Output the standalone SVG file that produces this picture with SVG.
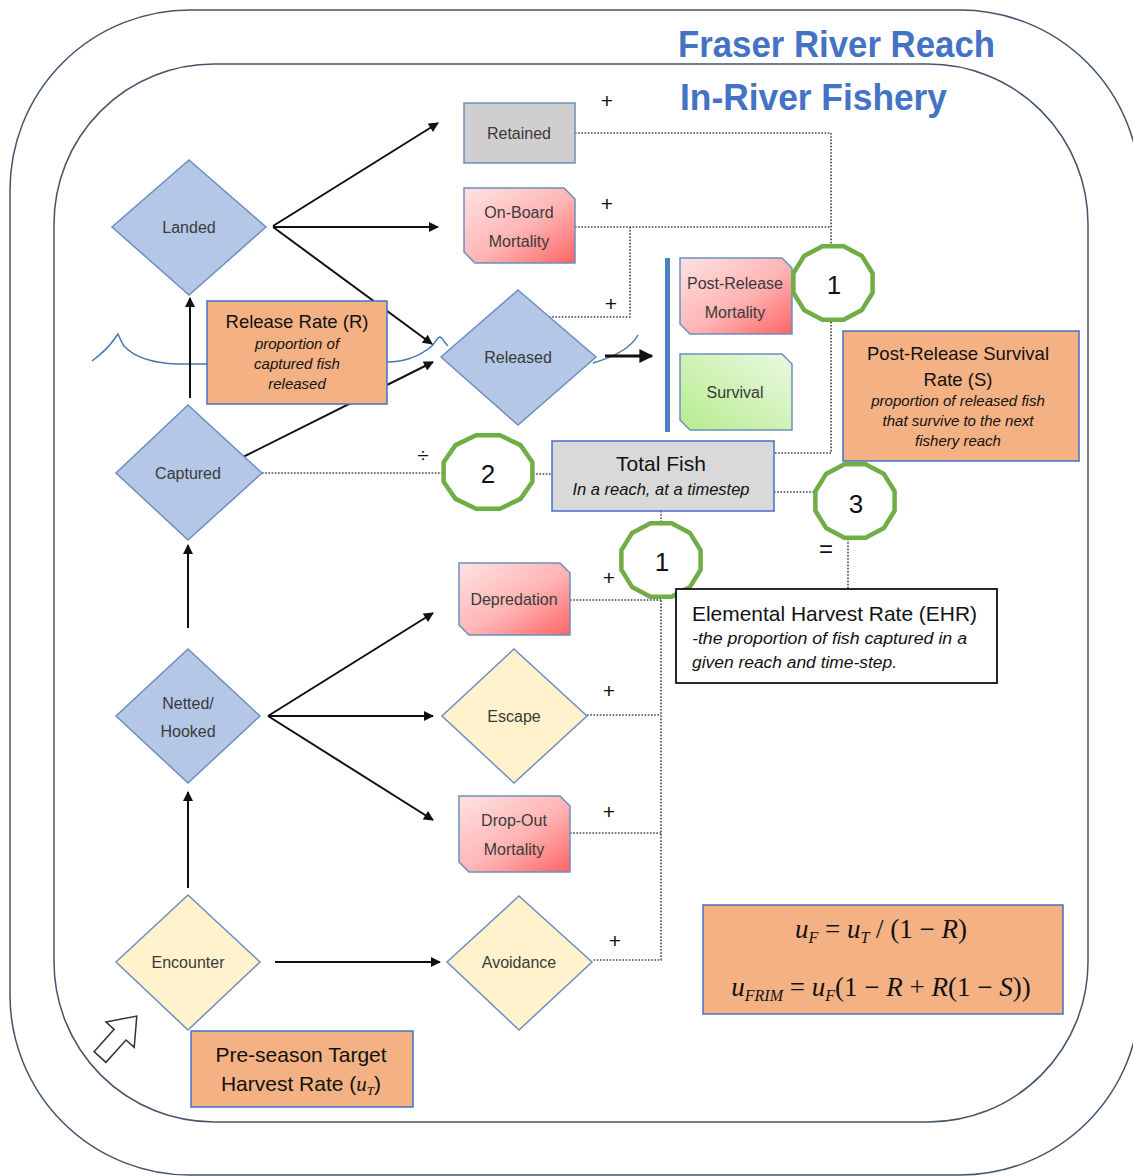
<svg xmlns="http://www.w3.org/2000/svg" width="1133" height="1176" viewBox="0 0 1133 1176">
<style>
.frame{fill:none;stroke:#44546a;stroke-width:1.5}
.title{font-family:"Liberation Sans",Arial,sans-serif;font-size:37px;font-weight:bold;fill:#4472c4}
.lbl{font-family:"Liberation Sans",Arial,sans-serif;font-size:16px;fill:#3a3a3a;text-anchor:middle}
.dia-blue{fill:#b4c7e7;stroke:#6c8ebf;stroke-width:1.5}
.dia-yel{fill:#fff2cc;stroke:#6c8ebf;stroke-width:1.5}
.red{fill:url(#redg);stroke:#6c8ebf;stroke-width:1.5}
.grn{fill:url(#grng);stroke:#6c8ebf;stroke-width:1.5}
.gray{fill:#d0cece;stroke:#6c8ebf;stroke-width:1.5}
.orange{fill:#f4b183;stroke:#4472c4;stroke-width:1.5}
.box-t{font-family:"Liberation Sans",Arial,sans-serif;font-size:18.5px;fill:#111;text-anchor:middle}
.box-i{font-family:"Liberation Sans",Arial,sans-serif;font-size:15px;font-style:italic;fill:#111;text-anchor:middle}
.arrow{stroke:#111;stroke-width:2;fill:none;marker-end:url(#ah)}
.dot{stroke:#444;stroke-width:1.6;stroke-dasharray:1.6 1.6;fill:none}
.sym{font-family:"Liberation Sans",Arial,sans-serif;font-size:21px;fill:#111;text-anchor:middle}
.ring{fill:#fff;stroke:#70ad47;stroke-width:4.5;stroke-linejoin:round}
.num{font-family:"Liberation Sans",Arial,sans-serif;font-size:26px;fill:#111;text-anchor:middle}
.river{fill:none;stroke:#4a78b0;stroke-width:1.5}
.math{font-family:"Liberation Serif","Times New Roman",serif;font-size:27px;fill:#111;text-anchor:middle}
.ehr{font-family:"Liberation Sans",Arial,sans-serif;fill:#111}
</style>
<defs>
<linearGradient id="redg" x1="0" y1="0" x2="1" y2="1">
<stop offset="0" stop-color="#ffe3e3"/>
<stop offset="0.55" stop-color="#ffb3b3"/>
<stop offset="1" stop-color="#ff6464"/>
</linearGradient>
<linearGradient id="grng" x1="0" y1="1" x2="1" y2="0">
<stop offset="0" stop-color="#b6ec8c"/>
<stop offset="1" stop-color="#eaf8e2"/>
</linearGradient>
<marker id="ah" viewBox="0 0 10 10" refX="9" refY="5" markerWidth="11" markerHeight="10" markerUnits="userSpaceOnUse" orient="auto">
<path d="M0,0 L10,5 L0,10 Z" fill="#111"/>
</marker>
<marker id="ahb" viewBox="0 0 10 10" refX="9" refY="5" markerWidth="16" markerHeight="14" markerUnits="userSpaceOnUse" orient="auto">
<path d="M0,0 L10,5 L0,10 Z" fill="#111"/>
</marker>
<polygon id="ring" class="ring" points="39.6,9.8 29,26.9 10.6,36.7 -10.6,36.7 -29,26.9 -39.6,9.8 -39.6,-9.8 -29,-26.9 -10.6,-36.7 10.6,-36.7 29,-26.9 39.6,-9.8"/>
<polygon id="ringw" class="ring" points="44.4,9.8 32.5,26.9 11.9,36.7 -11.9,36.7 -32.5,26.9 -44.4,9.8 -44.4,-9.8 -32.5,-26.9 -11.9,-36.7 11.9,-36.7 32.5,-26.9 44.4,-9.8"/>
</defs>

<g id="frames">
<rect class="frame" x="10" y="10" width="1130" height="1165" rx="180" ry="180"/>
<rect class="frame" x="54" y="64" width="1034" height="1058" rx="160" ry="160"/>
<text class="title" x="678" y="57" textLength="317" lengthAdjust="spacingAndGlyphs">Fraser River Reach</text>
<text class="title" x="680" y="110" textLength="267" lengthAdjust="spacingAndGlyphs">In-River Fishery</text>
</g>

<g id="river">
<path class="river" d="M92,361 C100,355 110,346 115,338 L118,334 C120,338 121,342 124,346 C133,356 150,363 177,364 L207,364"/>
<path class="river" d="M387,362 C405,362 420,356 432,346 C436,342 437,337 440,337 C443,338 444,343 448,346"/>
<path class="river" d="M593,363 C610,358 630,350 638,335"/>
</g>

<g id="connectors">
<path class="arrow" d="M273,226 L438,123"/>
<path class="arrow" d="M273,227 L438,227"/>
<path class="arrow" d="M273,227 L432,344"/>
<path class="arrow" d="M243,457 L433,362"/>
<path class="arrow" d="M190,398 L190,298"/>
<path class="arrow" d="M605,356 L652,356" style="stroke-width:3;marker-end:url(#ahb)"/>
<path class="arrow" d="M268,716 L433,613"/>
<path class="arrow" d="M268,716 L433,716"/>
<path class="arrow" d="M268,716 L433,820"/>
<path class="arrow" d="M188,628 L188,545"/>
<path class="arrow" d="M188,888 L188,792"/>
<path class="arrow" d="M275,962 L440,962"/>
<path class="dot" d="M575,133 H831 V453 H775"/>
<path class="dot" d="M575,227 H831"/>
<path class="dot" d="M549,317 H630 V227"/>
<path class="dot" d="M262,473 H444"/>
<path class="dot" d="M533,474 H552"/>
<path class="dot" d="M774,492 H815"/>
<path class="dot" d="M848,539 V590"/>
<path class="dot" d="M661,511 V523"/>
<path class="dot" d="M661,597 V960 H593"/>
<path class="dot" d="M570,600 H661"/>
<path class="dot" d="M587,715 H661"/>
<path class="dot" d="M570,833 H661"/>
<text class="sym" x="607" y="108">+</text>
<text class="sym" x="607" y="211">+</text>
<text class="sym" x="611" y="311">+</text>
<text class="sym" x="609" y="585">+</text>
<text class="sym" x="609" y="698">+</text>
<text class="sym" x="609" y="819">+</text>
<text class="sym" x="615" y="948">+</text>
<text class="sym" x="423" y="462">÷</text>
<text class="sym" x="826" y="557" style="font-size:24px">=</text>
</g>

<g id="landed">
<polygon class="dia-blue" points="189,160 266,227 189,295 112,227"/>
<text class="lbl" x="189" y="233">Landed</text>
</g>
<g id="retained">
<rect class="gray" x="464" y="103" width="111" height="60"/>
<text class="lbl" x="519" y="139">Retained</text>
</g>
<g id="onboard">
<path class="red" d="M464,188 H564 L575,199 V263 H475 L464,252 Z"/>
<text class="lbl" x="519" y="218">On-Board</text>
<text class="lbl" x="519" y="247">Mortality</text>
</g>
<g id="released">
<polygon class="dia-blue" points="518,290 596,357 518,425 441,357"/>
<text class="lbl" x="518" y="363">Released</text>
</g>
<g id="bar">
<rect x="665" y="258" width="5" height="174" fill="#4a7fc1"/>
</g>
<g id="postrelease">
<path class="red" d="M680,258 H782 L792,268 V334 H690 L680,324 Z"/>
<text class="lbl" x="735" y="289">Post-Release</text>
<text class="lbl" x="735" y="318">Mortality</text>
</g>
<g id="survival">
<path class="grn" d="M680,354 H782 L792,364 V430 H690 L680,420 Z"/>
<text class="lbl" x="735" y="398">Survival</text>
</g>
<g id="release-rate">
<rect class="orange" x="207" y="301" width="180" height="103"/>
<text class="box-t" x="297" y="328">Release Rate (R)</text>
<text class="box-i" x="297" y="349">proportion of</text>
<text class="box-i" x="297" y="369">captured fish</text>
<text class="box-i" x="297" y="389">released</text>
</g>
<g id="captured">
<polygon class="dia-blue" points="188,405 262,473 188,540 116,473"/>
<text class="lbl" x="188" y="479">Captured</text>
</g>
<g id="total-fish">
<rect x="552" y="441" width="222" height="70" fill="#d9d9d9" stroke="#4472c4" stroke-width="1.5"/>
<text class="box-t" x="661" y="471" style="font-size:21px">Total Fish</text>
<text class="box-i" x="661" y="495" style="font-size:16.5px">In a reach, at a timestep</text>
</g>
<g id="prs-rate">
<rect class="orange" x="843" y="331" width="236" height="130"/>
<text class="box-t" x="958" y="360">Post-Release Survival</text>
<text class="box-t" x="958" y="386">Rate (S)</text>
<text class="box-i" x="958" y="406">proportion of released fish</text>
<text class="box-i" x="958" y="426">that survive to the next</text>
<text class="box-i" x="958" y="446">fishery reach</text>
</g>
<g id="circle1-top">
<use href="#ring" x="833" y="283"/>
<text class="num" x="834" y="294">1</text>
</g>
<g id="circle2">
<use href="#ringw" x="488" y="472"/>
<text class="num" x="488" y="483">2</text>
</g>
<g id="circle3">
<use href="#ring" x="855" y="501"/>
<text class="num" x="856" y="513">3</text>
</g>
<g id="circle1-bottom">
<use href="#ring" x="661" y="560"/>
<text class="num" x="662" y="571">1</text>
</g>
<g id="ehr">
<rect x="676" y="589" width="321" height="94" fill="#fff" stroke="#111" stroke-width="1.8"/>
<text class="ehr" x="692" y="621" font-size="21" textLength="285" lengthAdjust="spacingAndGlyphs">Elemental Harvest Rate (EHR)</text>
<text class="ehr" x="692" y="644" font-size="16" font-style="italic" textLength="275" lengthAdjust="spacingAndGlyphs">-the proportion of fish captured in a</text>
<text class="ehr" x="692" y="668" font-size="16" font-style="italic" textLength="205" lengthAdjust="spacingAndGlyphs">given reach and time-step.</text>
</g>
<g id="depredation">
<path class="red" d="M459,563 H560 L570,573 V635 H469 L459,625 Z"/>
<text class="lbl" x="514" y="605">Depredation</text>
</g>
<g id="netted">
<polygon class="dia-blue" points="188,649 260,716 188,783 116,716"/>
<text class="lbl" x="188" y="709">Netted/</text>
<text class="lbl" x="188" y="737">Hooked</text>
</g>
<g id="escape">
<polygon class="dia-yel" points="514,649 587,716 514,783 442,716"/>
<text class="lbl" x="514" y="722">Escape</text>
</g>
<g id="dropout">
<path class="red" d="M459,796 H560 L570,806 V872 H469 L459,862 Z"/>
<text class="lbl" x="514" y="826">Drop-Out</text>
<text class="lbl" x="514" y="855">Mortality</text>
</g>
<g id="encounter">
<polygon class="dia-yel" points="188,895 260,962 188,1030 116,962"/>
<text class="lbl" x="188" y="968">Encounter</text>
</g>
<g id="avoidance">
<polygon class="dia-yel" points="519,896 592,962 519,1030 447,962"/>
<text class="lbl" x="519" y="968">Avoidance</text>
</g>
<g id="formulas">
<rect class="orange" x="703" y="905" width="360" height="109"/>
<text class="math" x="881" y="938"><tspan font-style="italic">u</tspan><tspan font-style="italic" font-size="16" dy="5">F</tspan><tspan dy="-5"> = </tspan><tspan font-style="italic">u</tspan><tspan font-style="italic" font-size="16" dy="5">T</tspan><tspan dy="-5"> / (1 − </tspan><tspan font-style="italic">R</tspan><tspan>)</tspan></text>
<text class="math" x="881" y="996"><tspan font-style="italic">u</tspan><tspan font-style="italic" font-size="16" dy="5">FRIM</tspan><tspan dy="-5"> = </tspan><tspan font-style="italic">u</tspan><tspan font-style="italic" font-size="16" dy="5">F</tspan><tspan dy="-5">(1 − </tspan><tspan font-style="italic">R</tspan><tspan> + </tspan><tspan font-style="italic">R</tspan><tspan>(1 − </tspan><tspan font-style="italic">S</tspan><tspan>))</tspan></text>
</g>
<g id="preseason">
<rect class="orange" x="191" y="1031" width="222" height="76"/>
<text class="box-t" x="301" y="1062" style="font-size:21px">Pre-season Target</text>
<text class="box-t" x="301" y="1091" style="font-size:21px">Harvest Rate (<tspan font-family="Liberation Serif,serif" font-style="italic">u</tspan><tspan font-family="Liberation Serif,serif" font-style="italic" font-size="13" dy="4">T</tspan><tspan dy="-4">)</tspan></text>
</g>
<g id="hollow-arrow">
<polygon points="0,-8 30,-8 30,-19 55,0 30,19 30,8 0,8" fill="#fff" stroke="#333" stroke-width="1.5" transform="translate(100,1057) rotate(-48)"/>
</g>
</svg>
